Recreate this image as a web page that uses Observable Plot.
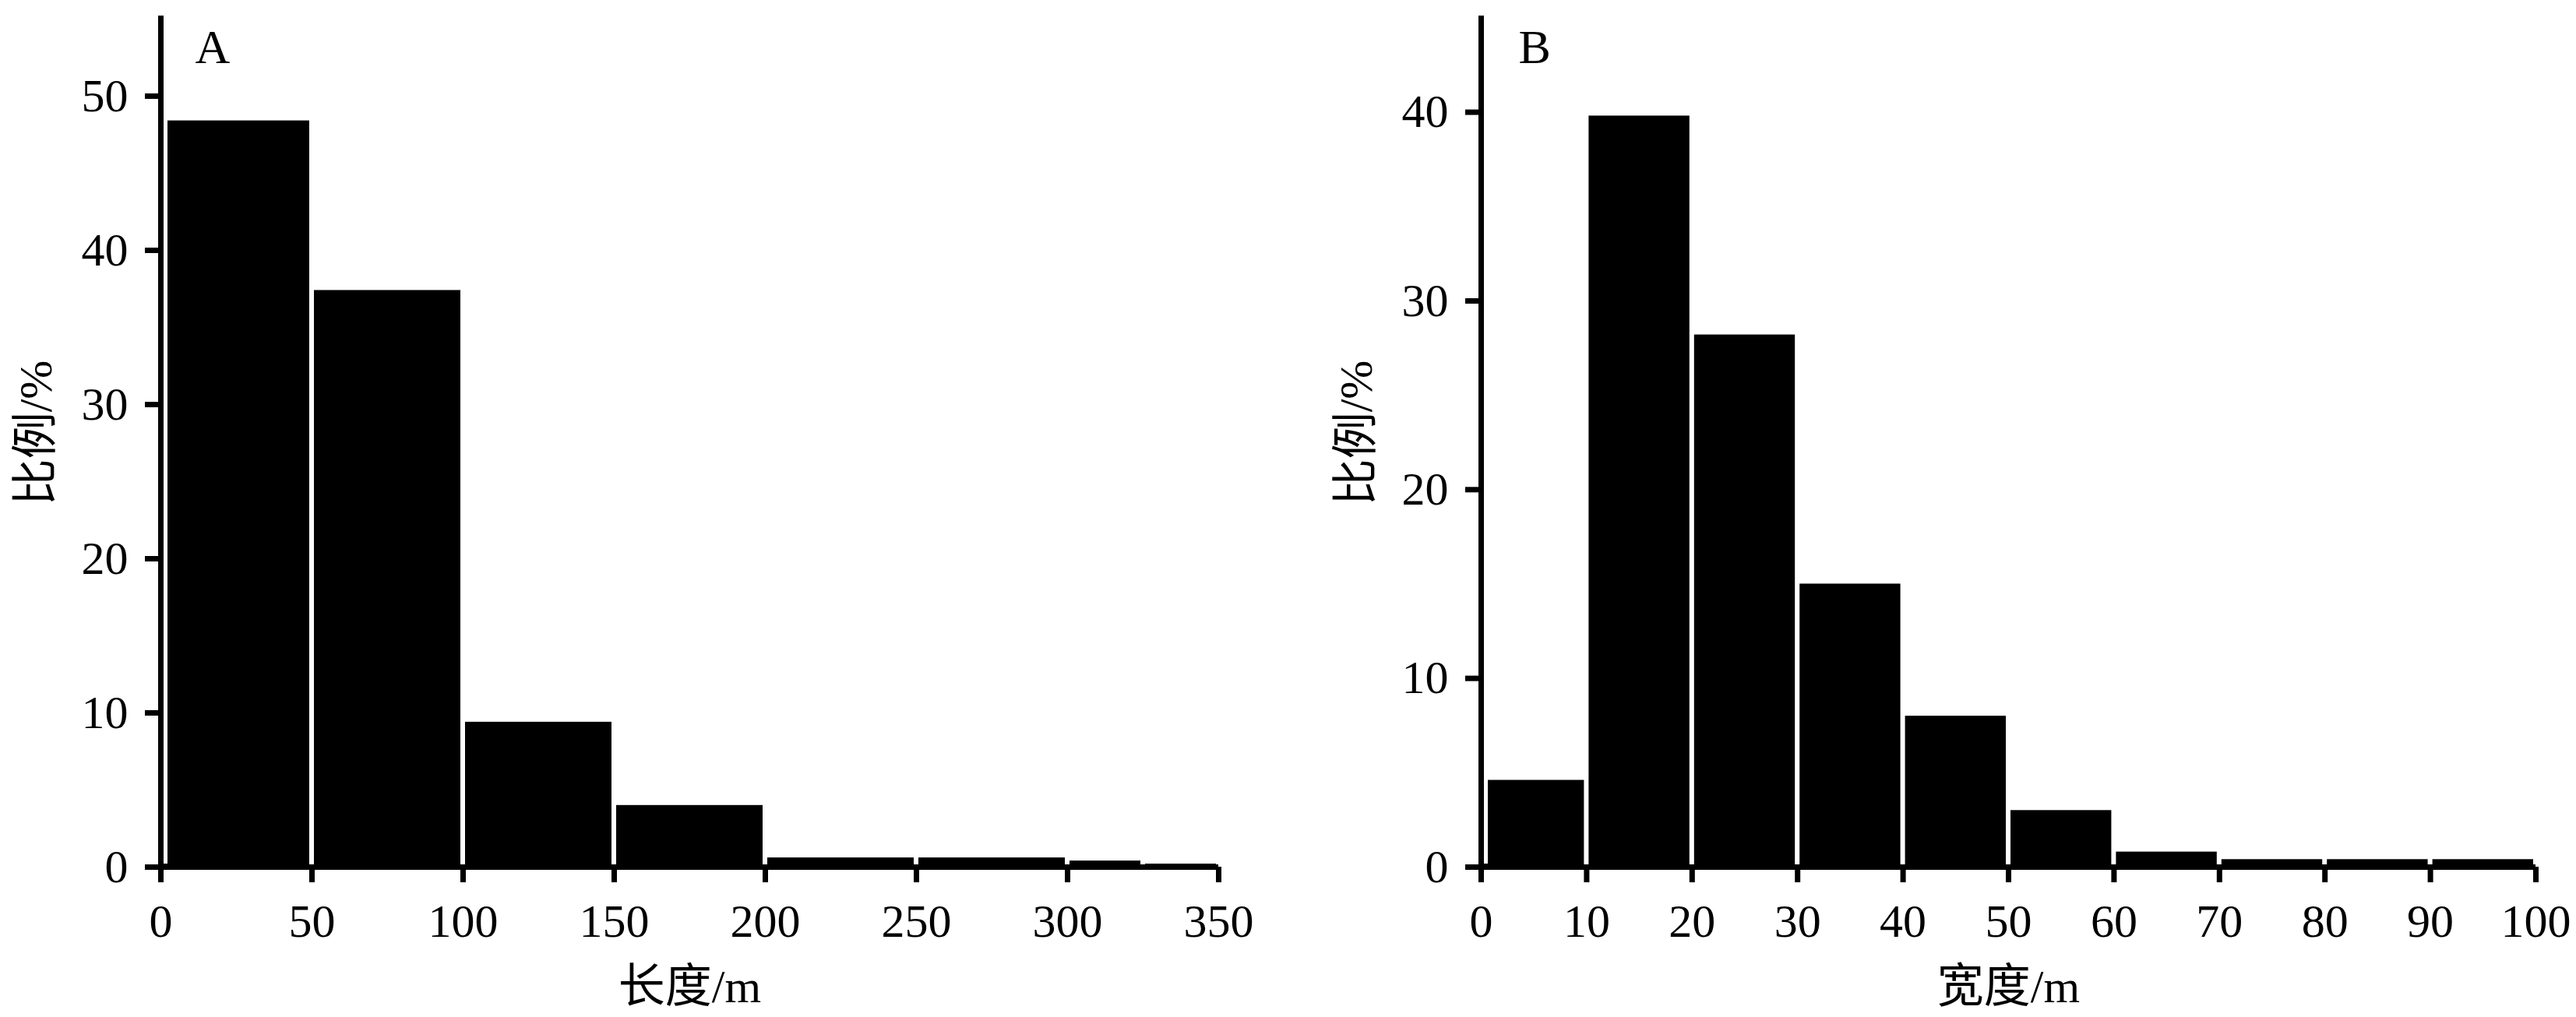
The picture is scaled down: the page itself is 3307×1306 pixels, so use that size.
<!DOCTYPE html>
<html>
<head>
<meta charset="utf-8">
<script src="https://cdn.jsdelivr.net/npm/d3@7"></script>
<script src="https://cdn.jsdelivr.net/npm/@observablehq/plot@0.6"></script>
<style>
html, body { margin: 0; padding: 0; background: #fff; }
#wrap { display: flex; width: 3307px; height: 1306px; overflow: hidden; }
</style>
</head>
<body>
<div id="wrap"></div>
<script>
// Panel A: length distribution
const lengthBinStart = [0, 50, 100, 150, 200, 250, 300, 325];
const lengthBinEnd   = [50, 100, 150, 200, 250, 300, 325, 350];
const lengthPercent  = [48.4, 37.4, 9.4, 4.0, 0.6, 0.6, 0.4, 0.2];
const lengthTicks    = [0, 50, 100, 150, 200, 250, 300, 350];
const lengthPctTicks = [0, 10, 20, 30, 40, 50];

// Panel B: width distribution
const widthBinStart = [0, 10, 20, 30, 40, 50, 60, 70, 80, 90];
const widthBinEnd   = [10, 20, 30, 40, 50, 60, 70, 80, 90, 100];
const widthPercent  = [4.6, 39.8, 28.2, 15.0, 8.0, 3.0, 0.8, 0.4, 0.4, 0.4];
const widthTicks    = [0, 10, 20, 30, 40, 50, 60, 70, 80, 90, 100];
const widthPctTicks = [0, 10, 20, 30, 40];

const panelLetters = ["A", "B"];
const xLabels = ["长度/m", "宽度/m"];
const yLabel = "比例/%";

const FONT = '"Liberation Serif", "Times New Roman", "Noto Sans CJK SC", serif';

function panel(opts) {
  const data = opts.starts.map((s, i) => ({x1: s, x2: opts.ends[i], y: opts.values[i]}));
  return Plot.plot({
    width: opts.width,
    height: 1306,
    marginLeft: opts.marginLeft,
    marginRight: opts.marginRight,
    marginTop: 20,
    marginBottom: 193,
    style: {fontFamily: FONT, fontSize: "60px", background: "#fff", color: "#000", overflow: "visible"},
    x: {domain: opts.xDomain},
    y: {domain: opts.yDomain},
    marks: [
      Plot.rectY(data, {x1: "x1", x2: "x2", y: "y", fill: "#000", insetLeft: 3, insetRight: 3}),
      Plot.ruleX([0], {stroke: "#fff", strokeWidth: 5, dx: 6, insetBottom: 4}),
      Plot.ruleY([0], {stroke: "#000", strokeWidth: 7}),
      Plot.ruleX([0], {stroke: "#000", strokeWidth: 7}),
      Plot.axisX({
        ticks: opts.xTicks, tickSize: 20, tickPadding: 27, strokeWidth: 7,
        fontSize: 60, tickFormat: d => String(d),
        label: opts.xLabel, labelAnchor: "center", labelArrow: "none", labelOffset: 173
      }),
      Plot.axisY({
        ticks: opts.yTicks, tickSize: 20, tickPadding: 22, strokeWidth: 7,
        fontSize: 60, tickFormat: d => String(d), label: null
      }),
      Plot.text([yLabel], {
        text: d => d, frameAnchor: "left", rotate: -90, lineAnchor: "top", textAnchor: "middle",
        dx: -183, dy: -11, fontSize: 60
      }),
      Plot.text([opts.letter], {
        text: d => d, frameAnchor: "top-left", textAnchor: "start", lineAnchor: "top",
        dx: opts.letterDx, dy: 16, fontSize: 62
      })
    ]
  });
}

const wrap = document.getElementById("wrap");
wrap.appendChild(panel({
  starts: lengthBinStart, ends: lengthBinEnd, values: lengthPercent,
  xTicks: lengthTicks, yTicks: lengthPctTicks, xDomain: [0, 350], yDomain: [0, 55.2],
  letter: panelLetters[0], xLabel: xLabels[0],
  width: 1650, marginLeft: 206, marginRight: 86, letterDx: 44
}));
wrap.appendChild(panel({
  starts: widthBinStart, ends: widthBinEnd, values: widthPercent,
  xTicks: widthTicks, yTicks: widthPctTicks, xDomain: [0, 100], yDomain: [0, 45.1],
  letter: panelLetters[1], xLabel: xLabels[1],
  width: 1657, marginLeft: 251, marginRight: 52, letterDx: 48
}));
</script>
</body>
</html>
